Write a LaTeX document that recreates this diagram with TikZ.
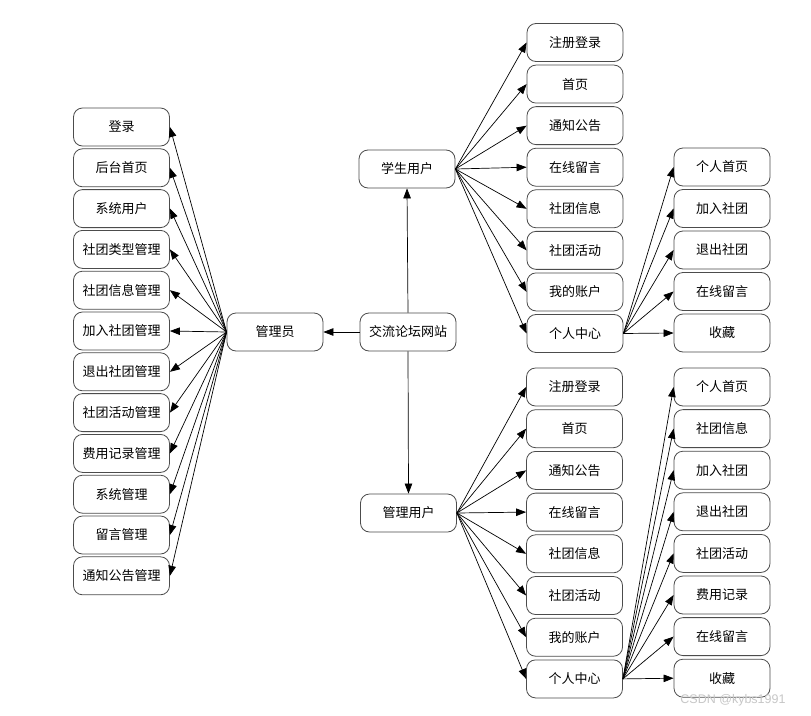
\documentclass[tikz,border=0pt]{standalone}
\usepackage{fontspec}
\newfontfamily\cjk{Noto Sans CJK SC}
\usetikzlibrary{arrows.meta}
\begin{document}
\begin{tikzpicture}[x=1pt,y=-1pt,
  box/.style={draw=black!70, line width=0.8pt, rounded corners=9pt, minimum width=96pt, minimum height=38pt, inner sep=0pt, font=\cjk\fontsize{13}{15}\selectfont},
  arr/.style={draw=black, line width=0.7pt, -{Triangle[length=10pt,width=7.5pt]}}]
\useasboundingbox (0,0) rectangle (811,715);
\fill[white] (0,0) rectangle (811,715);
% center nodes
\node[box] (site) at (408,332) {交流论坛网站};
\node[box] (adm) at (275,332) {管理员};
\node[box] (stu) at (407,169) {学生用户};
\node[box] (mgr) at (408.5,513) {管理用户};
\draw[arr] (site.west) -- (adm.east);
\draw[arr] (site.north) -- (stu.south);
\draw[arr] (site.south) -- (mgr.north);
% left column
\foreach \t [count=\i from 0] in {登录,后台首页,系统用户,社团类型管理,社团信息管理,加入社团管理,退出社团管理,社团活动管理,费用记录管理,系统管理,留言管理,通知公告管理}{
  \node[box] (L\i) at (121.5,{127+40.8*\i}) {\t};
  \draw[arr] (adm.west) -- (L\i.east);
}
% student children
\foreach \t [count=\i from 0] in {注册登录,首页,通知公告,在线留言,社团信息,社团活动,我的账户,个人中心}{
  \node[box] (S\i) at (575,{42.5+41.57*\i}) {\t};
  \draw[arr] (stu.east) -- (S\i.west);
}
% student personal center children
\foreach \t [count=\i from 0] in {个人首页,加入社团,退出社团,在线留言,收藏}{
  \node[box] (P\i) at (722,{167+41.5*\i}) {\t};
  \draw[arr] (S7.east) -- (P\i.west);
}
% admin-user children
\foreach \t [count=\i from 0] in {注册登录,首页,通知公告,在线留言,社团信息,社团活动,我的账户,个人中心}{
  \node[box] (M\i) at (574.5,{387+41.7*\i}) {\t};
  \draw[arr] (mgr.east) -- (M\i.west);
}
% admin personal center children
\foreach \t [count=\i from 0] in {个人首页,社团信息,加入社团,退出社团,社团活动,费用记录,在线留言,收藏}{
  \node[box] (Q\i) at (722,{387+41.6*\i}) {\t};
  \draw[arr] (M7.east) -- (Q\i.west);
}
\node[text=black!22, font=\fontspec{Liberation Sans}\fontsize{12.5}{14}\selectfont, inner sep=0pt] (wm) at (733,700) {CSDN @kybs1991};
\end{tikzpicture}
\end{document}
